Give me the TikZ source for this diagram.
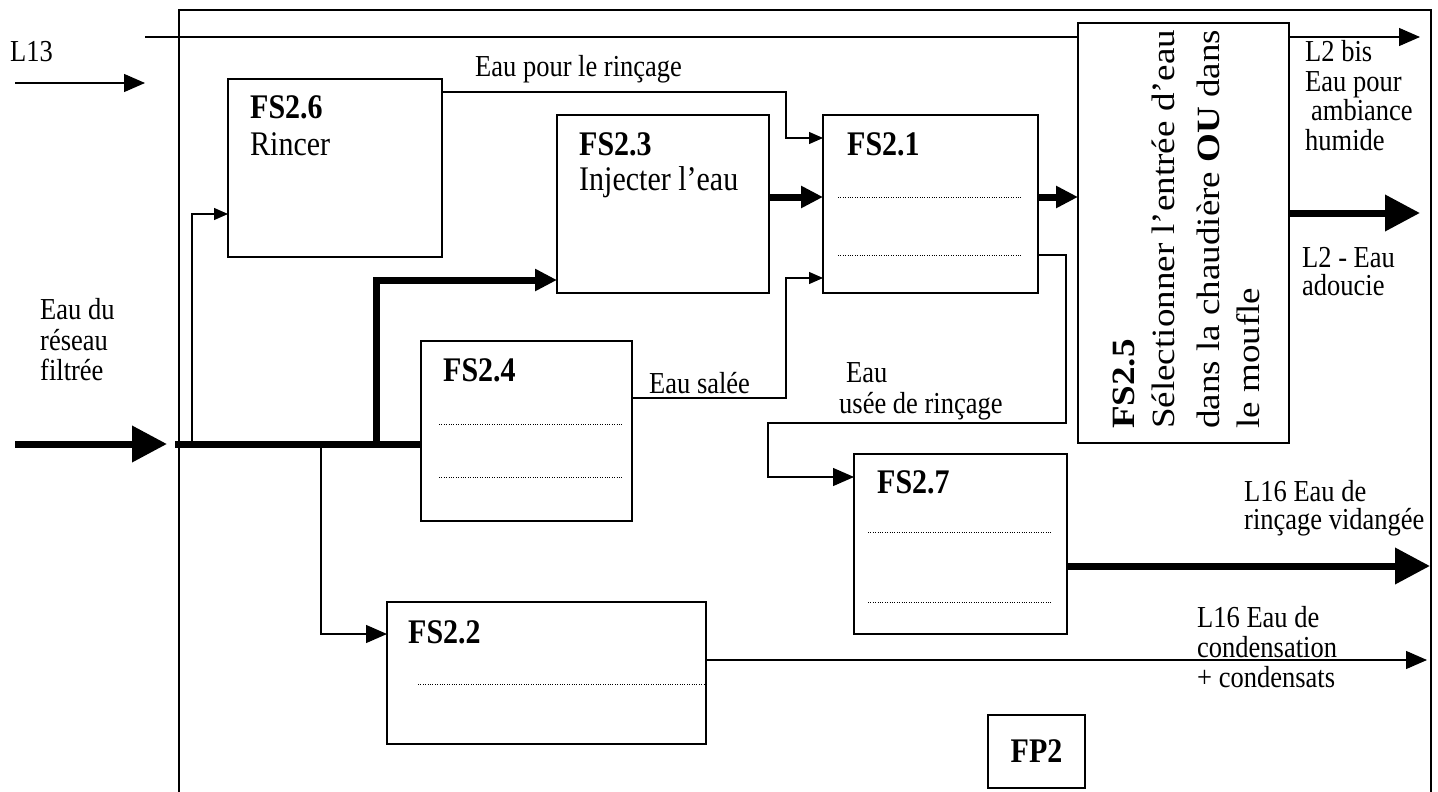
\documentclass[tikz,border=0pt]{standalone}
\usepackage{graphicx}
\usepackage{fontspec}
\setmainfont{Liberation Serif}
\usetikzlibrary{arrows.meta}
\newcommand{\Vs}[1]{\scalebox{1}[1.15]{#1}}
\newcommand{\Hs}[1]{\scalebox{1.14}[1]{#1}}
\tikzset{
  box/.style={draw, line width=1.5pt, inner sep=0pt, outer sep=0pt, anchor=north west},
  flow/.style={line width=1.3pt},
  heavy/.style={line width=7pt},
  tipS/.style={-{Triangle[length=14pt,width=12pt]}},
  tipM/.style={-{Triangle[length=21pt,width=18pt]}},
  tipT/.style={-{Triangle[length=22pt,width=21pt]}},
  tipB/.style={-{Triangle[length=35pt,width=35pt]}},
  lbl/.style={anchor=base west, inner sep=0pt, font=\fontsize{26.5}{30}\selectfont},
  boxtxt/.style={anchor=base west, inner sep=0pt, font=\fontsize{30}{34}\selectfont},
  rot/.style={anchor=base west, rotate=90, inner sep=0pt, font=\fontsize{32.5}{38}\selectfont},
  dots/.style={line width=0.9pt, dash pattern=on 1pt off 1.4pt},
}
\begin{document}
\begin{tikzpicture}[x=1pt,y=-1pt]
\useasboundingbox (0,0) rectangle (1438,792);
\fill[white] (0,0) rectangle (1438,792);

% outer frame (open at the bottom)
\draw[line width=1.4pt] (179,792) -- (179,10) -- (1431,10) -- (1431,792);

% boxes
\node[box, minimum width=214pt, minimum height=178pt] (fs26) at (228,79) {};
\node[box, minimum width=212pt, minimum height=178pt] (fs23) at (557,115) {};
\node[box, minimum width=215pt, minimum height=178pt] (fs21) at (823,115) {};
\node[box, minimum width=211pt, minimum height=420pt] (fs25) at (1078,23) {};
\node[box, minimum width=211pt, minimum height=180pt] (fs24) at (421,341) {};
\node[box, minimum width=213pt, minimum height=180pt] (fs27) at (854,454) {};
\node[box, minimum width=319pt, minimum height=142pt] (fs22) at (387,602) {};
\node[box, minimum width=97pt, minimum height=73pt] (fp2) at (988,715) {};

% box texts
\node[boxtxt] (t26a) at (250,118) {\Vs{\textbf{FS2.6}}};
\node[boxtxt] (t26b) at (250,155) {\Vs{Rincer}};
\node[boxtxt] (t23a) at (579,155) {\Vs{\textbf{FS2.3}}};
\node[boxtxt] (t23b) at (579,190) {\Vs{Injecter l’eau}};
\node[boxtxt] (t21a) at (847,155) {\Vs{\textbf{FS2.1}}};
\node[boxtxt] (t24a) at (443,381) {\Vs{\textbf{FS2.4}}};
\node[boxtxt] (t27a) at (877,493) {\Vs{\textbf{FS2.7}}};
\node[boxtxt] (t22a) at (408,643) {\Vs{\textbf{FS2.2}}};
\node[inner sep=0pt, font=\fontsize{30}{34}\selectfont\bfseries] (tfp2) at (fp2.center) {\Vs{FP2}};

% rotated text of FS2.5
\node[rot] (t25a) at (1134,429) {\Hs{\textbf{FS2.5}}};
\node[rot] (t25b) at (1174,429) {\Hs{Sélectionner l’entrée d’eau}};
\node[rot] (t25c) at (1219,429) {\Hs{dans la chaudière \textbf{OU} dans}};
\node[rot] (t25d) at (1259,429) {\Hs{le moufle}};

% dotted lines in boxes
\draw[dots] (838,197) -- (1022,197);
\draw[dots] (838,255) -- (1022,255);
\draw[dots] (439,424) -- (623,424);
\draw[dots] (439,477) -- (623,477);
\draw[dots] (868,532) -- (1052,532);
\draw[dots] (868,602) -- (1052,602);
\draw[dots] (418,684) -- (704,684);

% coordinates
\coordinate (inS) at (15,444);
\coordinate (inE) at (167,444);
\coordinate (mainS) at (175,444);
\coordinate (j26) at (192,444);
\coordinate (j22) at (321,444);
\coordinate (j23) at (376,444);
\coordinate (l13S) at (15,83);
\coordinate (l13E) at (145,83);
\coordinate (topS) at (145,37);

% main input
\draw[heavy, tipB] (inS) -- (inE);
\draw[heavy] (mainS) -- (fs24.west |- 0,444);
\draw[flow, tipS] (j26) |- (fs26.west |- 0,214);
\draw[heavy, tipT] (j23) |- (fs23.west |- 0,280);
\draw[flow, tipM] (j22) |- (fs22.west |- 0,634);

% L13
\draw[flow, tipM] (l13S) -- (l13E);
\draw[flow] (topS) -- (fs25.west |- 0,37);
\draw[flow, tipM] (fs25.east |- 0,37) -- (1420,37);

% internal flows
\draw[flow, tipS] (fs26.east |- 0,92) -- (786,92) |- (fs21.west |- 0,138);
\draw[flow, tipS] (fs24.east |- 0,398) -- (786,398) |- (fs21.west |- 0,278);
\draw[heavy, tipT] (fs23.east |- 0,197) -- (fs21.west |- 0,197);
\draw[heavy, tipT] (fs21.east |- 0,197) -- (fs25.west |- 0,197);
\draw[flow, tipM] (fs21.east |- 0,255) -- (1066,255) -- (1066,423) -- (768,423) |- (fs27.west |- 0,477);

% outputs
\draw[heavy, tipB] (fs25.east |- 0,213) -- (1420,213);
\draw[heavy, tipB] (fs27.east |- 0,566) -- (1430,566);
\draw[flow, tipM] (fs22.east |- 0,660) -- (1427,660);

% labels
\node[lbl] (lL13) at (10,62) {\Vs{L13}};
\node[lbl] (lrin) at (475,77) {\Vs{Eau pour le rinçage}};
\node[lbl] (lsal) at (649,393) {\Vs{Eau salée}};
\node[lbl] (luse1) at (846,382) {\Vs{Eau}};
\node[lbl] (luse2) at (839,413) {\Vs{usée de rinçage}};
\node[lbl] (lres1) at (40,319) {\Vs{Eau du}};
\node[lbl] (lres2) at (40,350) {\Vs{réseau}};
\node[lbl] (lres3) at (40,380) {\Vs{filtrée}};
\node[lbl] (lbis1) at (1305,62) {\Vs{L2 bis}};
\node[lbl] (lbis2) at (1305,92) {\Vs{Eau pour}};
\node[lbl] (lbis3) at (1311,120) {\Vs{ambiance}};
\node[lbl] (lbis4) at (1305,150) {\Vs{humide}};
\node[lbl] (ll21) at (1302,267) {\Vs{L2 - Eau}};
\node[lbl] (ll22) at (1302,295) {\Vs{adoucie}};
\node[lbl] (lvid1) at (1244,501) {\Vs{L16 Eau de}};
\node[lbl] (lvid2) at (1244,529) {\Vs{rinçage vidangée}};
\node[lbl] (lcon1) at (1197,627) {\Vs{L16 Eau de}};
\node[lbl] (lcon2) at (1197,657) {\Vs{condensation}};
\node[lbl] (lcon3) at (1197,687) {\Vs{+ condensats}};
\end{tikzpicture}
\end{document}
